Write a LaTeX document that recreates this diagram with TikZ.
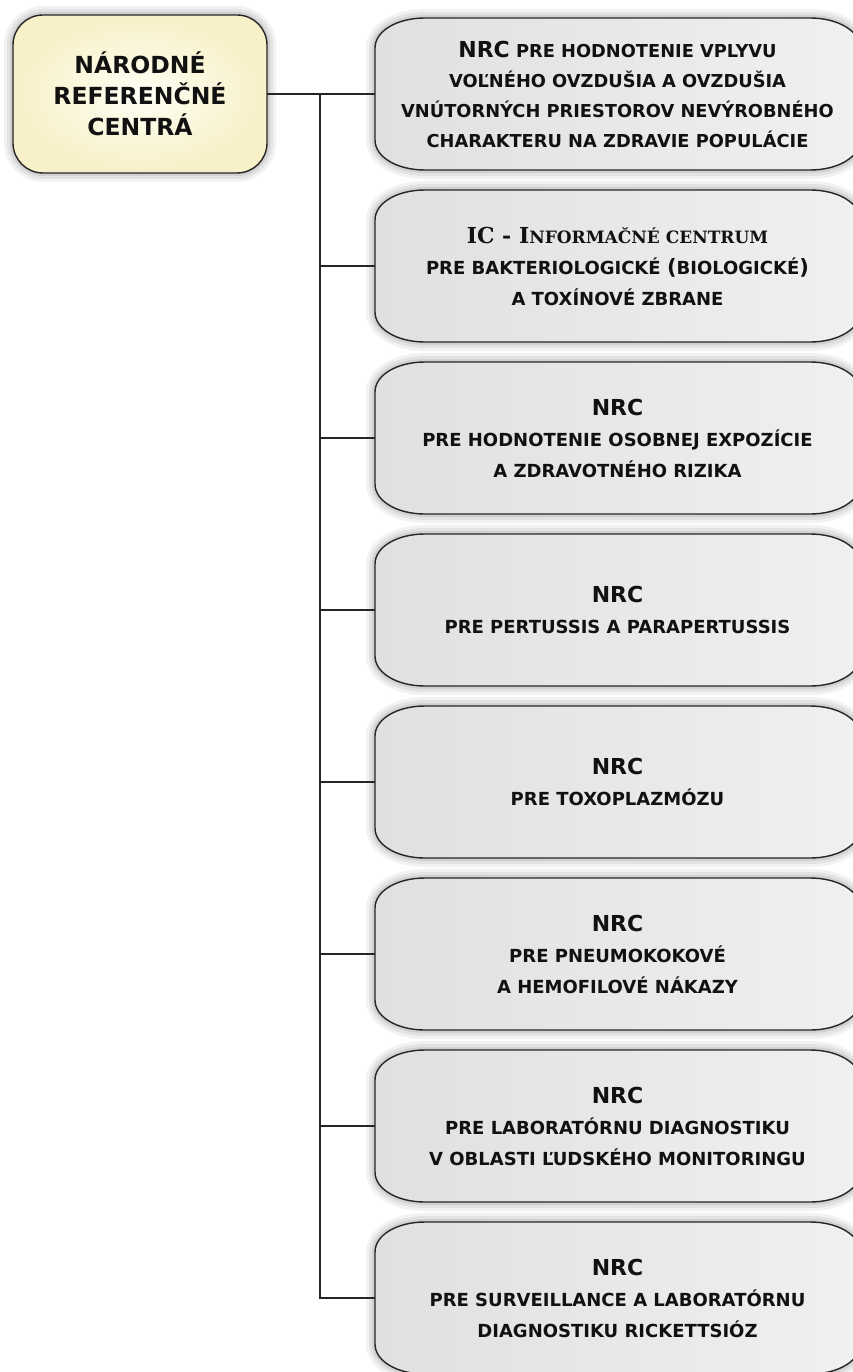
\documentclass[tikz,border=0pt]{standalone}
\usepackage{fontspec}
\setmainfont{DejaVu Sans}
\newfontfamily\serifbf{DejaVu Serif}
\usetikzlibrary{calc}
\pgfdeclarelayer{background}
\pgfsetlayers{background,main}
\definecolor{ink}{HTML}{111111}
\definecolor{edge}{HTML}{262626}
\definecolor{boxleft}{HTML}{E0E0E0}
\definecolor{boxmid}{HTML}{F7F7F7}
\definecolor{boxright}{HTML}{F0F0F0}
\definecolor{yelin}{HTML}{FFFFF4}
\definecolor{yelout}{HTML}{F7F0C8}
\newcommand{\nrcbig}{\fontsize{22}{31}\selectfont NRC}
\newcommand{\shapebox}[1]{%
  \foreach \w/\o in {18pt/0.05,12pt/0.06,6pt/0.08}{%
    \path[draw=black, line width=\w, opacity=\o]
      ($(#1.north west)+(0,30)$) .. controls ($(#1.north west)+(0,13)$) and ($(#1.north west)+(22,0)$) .. ($(#1.north west)+(50,0)$)
      -- ($(#1.north east)+(-50,0)$) .. controls ($(#1.north east)+(-22,0)$) and ($(#1.north east)+(0,13)$) .. ($(#1.north east)+(0,30)$)
      -- ($(#1.south east)+(0,-30)$) .. controls ($(#1.south east)+(0,-13)$) and ($(#1.south east)+(-22,0)$) .. ($(#1.south east)+(-50,0)$)
      -- ($(#1.south west)+(50,0)$) .. controls ($(#1.south west)+(22,0)$) and ($(#1.south west)+(0,-13)$) .. ($(#1.south west)+(0,-30)$)
      -- cycle;}
  \path[boxfill]
      ($(#1.north west)+(0,30)$) .. controls ($(#1.north west)+(0,13)$) and ($(#1.north west)+(22,0)$) .. ($(#1.north west)+(50,0)$)
      -- ($(#1.north east)+(-50,0)$) .. controls ($(#1.north east)+(-22,0)$) and ($(#1.north east)+(0,13)$) .. ($(#1.north east)+(0,30)$)
      -- ($(#1.south east)+(0,-30)$) .. controls ($(#1.south east)+(0,-13)$) and ($(#1.south east)+(-22,0)$) .. ($(#1.south east)+(-50,0)$)
      -- ($(#1.south west)+(50,0)$) .. controls ($(#1.south west)+(22,0)$) and ($(#1.south west)+(0,-13)$) .. ($(#1.south west)+(0,-30)$)
      -- cycle;}
\tikzset{
  boxnode/.style={minimum width=485pt, minimum height=152pt, inner sep=0pt, outer sep=0pt,
    align=center, text=ink, font=\bfseries\fontsize{18}{31}\selectfont},
  boxfill/.style={draw=edge, line width=1.4pt, left color=boxleft, middle color=boxmid, right color=boxright},
  link/.style={draw=edge, line width=1.3pt},
  mainbox/.style={minimum width=254pt, minimum height=158pt, inner sep=0pt, outer sep=0pt,
    rounded corners=30pt, draw=edge, line width=1.4pt, inner color=yelin, outer color=yelout,
    align=center, text=ink, font=\bfseries\fontsize{23.5}{31}\selectfont,
    preaction={draw=black, opacity=0.05, line width=18pt},
    preaction={draw=black, opacity=0.06, line width=12pt},
    preaction={draw=black, opacity=0.08, line width=6pt}},
}
\begin{document}
\begin{tikzpicture}[x=1pt, y=-1pt]
\useasboundingbox (0,0) rectangle (853,1372);

\node[mainbox] (main) at (140,94) {NÁRODNÉ\\REFERENČNÉ\\CENTRÁ};

\node[boxnode, font=\bfseries\fontsize{17.8}{30}\selectfont] (b1) at (617.5,94)
  {{\nrcbig} PRE HODNOTENIE VPLYVU\\VOĽNÉHO OVZDUŠIA A OVZDUŠIA\\VNÚTORNÝCH PRIESTOROV NEVÝROBNÉHO\\CHARAKTERU NA ZDRAVIE POPULÁCIE};
\node[boxnode] (b2) at (617.5,266)
  {{\serifbf\fontsize{22}{31}\selectfont IC - I\fontsize{17}{31}\selectfont NFORMAČNÉ CENTRUM}\\PRE BAKTERIOLOGICKÉ {\fontsize{21}{31}\selectfont(}BIOLOGICKÉ{\fontsize{21}{31}\selectfont)}\\A TOXÍNOVÉ ZBRANE};
\node[boxnode] (b3) at (617.5,438)
  {{\nrcbig}\\PRE HODNOTENIE OSOBNEJ EXPOZÍCIE\\A ZDRAVOTNÉHO RIZIKA};
\node[boxnode] (b4) at (617.5,610)
  {{\nrcbig}\\PRE PERTUSSIS A PARAPERTUSSIS};
\node[boxnode] (b5) at (617.5,782)
  {{\nrcbig}\\PRE TOXOPLAZMÓZU};
\node[boxnode] (b6) at (617.5,954)
  {{\nrcbig}\\PRE PNEUMOKOKOVÉ\\A HEMOFILOVÉ NÁKAZY};
\node[boxnode] (b7) at (617.5,1126)
  {{\nrcbig}\\PRE LABORATÓRNU DIAGNOSTIKU\\V OBLASTI ĽUDSKÉHO MONITORINGU};
\node[boxnode] (b8) at (617.5,1298)
  {{\nrcbig}\\PRE SURVEILLANCE A LABORATÓRNU\\DIAGNOSTIKU RICKETTSIÓZ};

\begin{pgfonlayer}{background}
  \fill[white] (0,0) rectangle (853,1372);
  \foreach \b in {b1,b2,b3,b4,b5,b6,b7,b8}{\shapebox{\b}}
\end{pgfonlayer}

\coordinate (spine) at (320,94);
\draw[link] (main.east) -- (b1.west);
\draw[link] (spine) |- (b8.west);
\foreach \b in {b2,b3,b4,b5,b6,b7}{\draw[link] (spine |- \b.west) -- (\b.west);}
\end{tikzpicture}
\end{document}
